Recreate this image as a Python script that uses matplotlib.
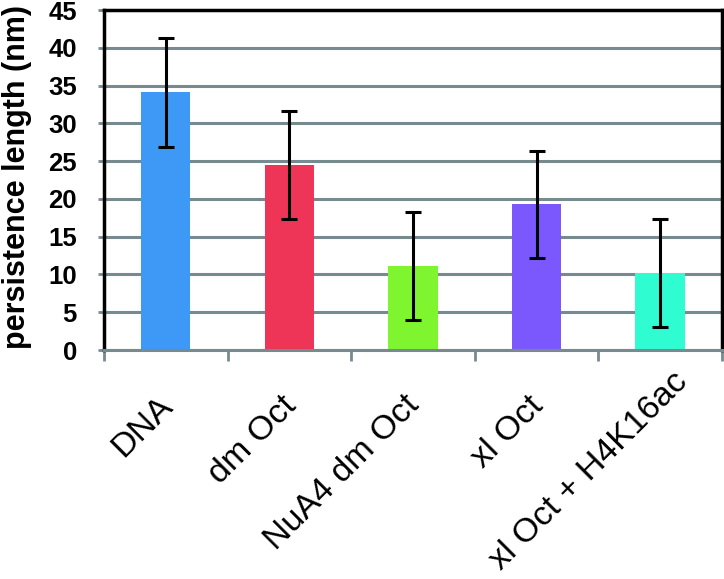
import matplotlib
matplotlib.use('Agg')
from matplotlib import rcParams
rcParams['font.family'] = ['Liberation Sans', 'DejaVu Sans']
import matplotlib.pyplot as plt
import matplotlib.transforms as mtrans
import numpy as np

labels = ['DNA', 'dm Oct', 'NuA4 dm Oct', 'xl Oct', 'xl Oct + H4K16ac']
values = [34.1, 24.5, 11.1, 19.3, 10.2]
errors = [7.2, 7.1, 7.1, 7.1, 7.1]
colors = ['#3d99f5', '#ee3558', '#7ef52e', '#7a58fd', '#30fcd2']

grid_c = '#778a8f'

fig = plt.figure(figsize=(7.24, 5.79), dpi=100)
ax = fig.add_axes([0.1436, 0.3955, 0.9972 - 0.1436, 0.9827 - 0.3955])

x = np.arange(len(labels))
ax.set_axisbelow(True)
ax.yaxis.grid(True, color=grid_c, linewidth=2.2)
ax.bar(x, values, width=0.4, color=colors, zorder=2)
ax.errorbar(x, values, yerr=errors, fmt='none', ecolor='k', elinewidth=2.2,
            capsize=5.8, capthick=2.2, zorder=3)

ax.set_xlim(-0.5, 4.5)
ax.set_ylim(0, 45)
ax.set_yticks(np.arange(0, 46, 5))
ax.set_xticks(x)
ax.set_xticklabels(labels, rotation=45, ha='right', va='top',
                   rotation_mode='anchor', fontsize=24.5)
ax.set_xticks(np.arange(-0.5, 4.6, 1), minor=True)
ax.tick_params(axis='x', which='major', length=0, pad=0)
ax.tick_params(axis='x', which='minor', length=8, width=2, color=grid_c, direction='out')
ax.tick_params(axis='y', length=4.5, width=2, color=grid_c, direction='out', pad=15)
for t in ax.get_yticklabels():
    t.set_fontsize(18.5)
    t.set_fontweight('bold')
ax.set_ylabel('persistence length (nm)', fontsize=22, fontweight='bold')
ax.yaxis.set_label_coords(-0.117, 0.51)

# shift rotated labels (pixels at dpi 100)
offsets = [(-9, -40), (-9, -40), (-9, -40), (-9, -40), (12, -16)]
for t, (dx, dy) in zip(ax.get_xticklabels(), offsets):
    t.set_transform(t.get_transform() +
                    mtrans.ScaledTranslation(dx / 100, dy / 100, fig.dpi_scale_trans))

for s in ['left', 'top', 'right']:
    ax.spines[s].set_color('k')
    ax.spines[s].set_linewidth(2.5)
ax.spines['bottom'].set_color(grid_c)
ax.spines['bottom'].set_linewidth(2.2)

fig.savefig('out.png', dpi=100)
plt.close(fig)
